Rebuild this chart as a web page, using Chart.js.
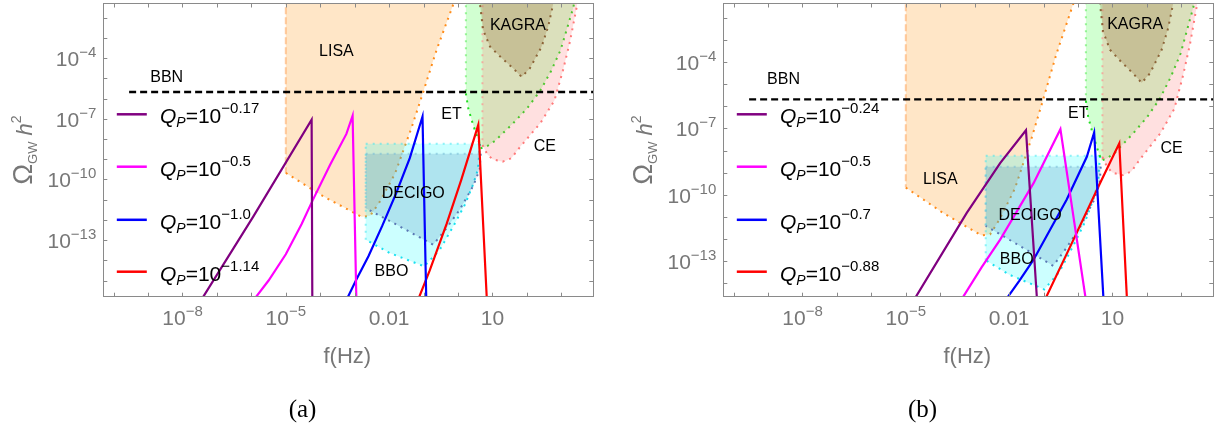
<!DOCTYPE html>
<html>
<head>
<meta charset="utf-8">
<script src="https://cdn.jsdelivr.net/npm/chart.js@4.4.1/dist/chart.umd.min.js"></script>
<style>
  body { margin: 0; background: #fff; }
  #wrap { position: relative; width: 1225px; height: 432px; overflow: hidden; }
  #wrap canvas { position: absolute; top: 0; }
</style>
</head>
<body>
<div id="wrap">
  <canvas id="panelA" width="605" height="432" style="left:0px"></canvas>
  <canvas id="panelB" width="605" height="432" style="left:620px"></canvas>
</div>
<script>
// Every number below is log10(f / Hz) or log10(Omega_GW h^2)

const xRange = [-10.3, 3.93];
const xDecades = [-10, -9, -8, -7, -6, -5, -4, -3, -2, -1, 0, 1, 2, 3];
const xLabelAt = [-8, -5, -2, 1];
const xLabelText = ['10^−8', '10^−5', '0.01', '10'];
const yLabelAt = [-4, -7, -10, -13];
const yLabelText = ['10^−4', '10^−7', '10^−10', '10^−13'];

const yRangeA = [-15.8, -1.3];
const yDecadesA = [-15, -14, -13, -12, -11, -10, -9, -8, -7, -6, -5, -4, -3, -2];
const yRangeB = [-14.63, -1.33];
const yDecadesB = [-14, -13, -12, -11, -10, -9, -8, -7, -6, -5, -4, -3, -2];

// detector sensitivity regions (closed outlines)
const lisaF = [-5.0, -5.0, -3.9, -2.8, -2.55, -2.27, -1.83, -1.35, -1.01, -0.62, -0.14, 0.16];
const lisaO = [0.0, -9.68, -10.85, -11.85, -11.8, -11.1, -9.72, -7.45, -5.68, -3.59, -1.36, 0.0];
const bboF = [-2.68, 0.64, 0.58, 0.45, 0.2, -0.14, -0.53, -0.98, -1.98, -2.68, -2.68];
const bboO = [-8.24, -8.24, -9.5, -10.2, -11.25, -12.33, -13.48, -14.3, -13.64, -12.98, -8.24];
const decigoF = [-2.68, 0.66, 0.63, 0.45, 0.05, -0.35, -0.72, -1.78, -2.68, -2.68];
const decigoO = [-8.73, -8.73, -9.5, -10.3, -11.5, -12.45, -13.23, -12.24, -11.42, -8.73];
const etF = [0.23, 0.23, 0.30, 0.44, 0.58, 0.68, 0.85, 1.07, 1.58, 2.0, 2.38, 2.7, 2.98, 3.35, 3.5];
const etO = [0.0, -5.75, -6.5, -7.3, -8.0, -8.45, -8.35, -8.1, -7.26, -6.5, -5.64, -4.65, -3.6, -1.5, 0.0];
const ceF = [0.71, 0.71, 0.85, 1.0, 1.3, 1.55, 1.8, 2.1, 2.4, 2.8, 3.05, 3.25, 3.45, 3.6];
const ceO = [0.0, -8.3, -8.75, -9.0, -9.12, -8.95, -8.4, -7.8, -7.2, -6.1, -4.6, -3.2, -1.45, 0.0];
const kagraF = [0.62, 0.64, 0.73, 0.93, 1.27, 1.6, 1.85, 2.09, 2.43, 2.62, 2.76, 2.9];
const kagraO = [0.0, -1.36, -2.6, -3.43, -4.0, -4.5, -4.93, -4.5, -3.43, -2.44, -1.36, 0.0];
const bbnF = [-9.55, 4.5];
const bbnO = [-5.68, -5.68];

// Q_P curves, panel (a)
const purpleAF = [-7.47, -5.95, -4.25, -4.23];
const purpleAO = [-16.0, -11.85, -7.05, -16.0];
const magentaAF = [-5.95, -5.5, -5.0, -4.54, -4.21, -3.72, -3.24, -3.06, -2.95];
const magentaAO = [-16.0, -15.0, -13.7, -12.2, -11.0, -9.3, -7.75, -6.85, -16.0];
const blueAF = [-3.25, -2.95, -2.6, -2.2, -1.8, -1.4, -1.03, -0.92];
const blueAO = [-16.0, -14.95, -13.8, -12.3, -10.7, -8.95, -6.89, -16.0];
const redAF = [-1.17, -0.82, -0.33, 0.10, 0.59, 0.84];
const redAO = [-16.0, -14.5, -12.2, -10.0, -7.30, -16.0];

// Q_P curves, panel (b)
const purpleBF = [-4.85, -3.23, -2.26, -1.51, -1.18];
const purpleBO = [-15.0, -10.83, -8.57, -7.08, -15.0];
const magentaBF = [-3.48, -2.8, -2.26, -1.29, -0.51, 0.25];
const magentaBO = [-15.0, -13.3, -12.04, -9.48, -7.03, -15.0];
const blueBF = [-2.2, -1.7, -1.29, -0.33, 0.26, 0.47, 0.75];
const blueBO = [-15.0, -13.9, -12.95, -10.23, -8.27, -7.18, -15.0];
const redBF = [-1.03, -0.13, 0.64, 1.20, 1.43];
const redBO = [-15.0, -12.04, -9.48, -7.67, -15.0];

const qColors = ['#800080', '#ff00ff', '#0000ff', '#ff0000'];
const qExpA = ['−0.17', '−0.5', '−1.0', '−1.14'];
const qExpB = ['−0.24', '−0.5', '−0.7', '−0.88'];

// text labels inside the plots
const detNames = ['LISA', 'KAGRA', 'ET', 'CE', 'DECIGO', 'BBO', 'BBN'];
const detAF = [-3.53, 1.74, -0.19, 2.52, -1.30, -1.93, -8.46];
const detAO = [-3.67, -2.40, -6.80, -8.37, -10.68, -14.55, -4.96];
const detBF = [-4.00, 1.66, 0.01, 2.72, -1.39, -1.78, -8.55];
const detBO = [-9.33, -2.27, -6.31, -7.89, -10.95, -12.95, -4.80];

const FONT = '"Liberation Sans", Arial, sans-serif';
const FRAME = '#8a8a8a';
const TICKTXT = '#777777';

const toPts = (fs, os) => fs.map((f, i) => ({ x: Math.pow(10, f), y: Math.pow(10, os[i]) }));
const decadeTicks = list => list.map(v => ({ value: Math.pow(10, v) }));

const regions = [
    { f: kagraF, o: kagraO, fill: 'rgba(140,100,40,0.25)', line: '#8c6438', edge: '#8c6438' },
    { f: ceF, o: ceO, fill: 'rgba(255,100,100,0.2)', line: '#ff7a7a', edge: 'rgba(255,140,140,0.65)' },
    { f: etF, o: etO, fill: 'rgba(0,255,0,0.18)', line: '#22dd22', edge: 'rgba(90,235,90,0.6)' },
    { f: decigoF, o: decigoO, fill: 'rgba(70,130,180,0.22)', line: '#5a78b4', edge: 'rgba(120,190,215,0.6)' },
    { f: bboF, o: bboO, fill: 'rgba(0,255,255,0.2)', line: '#19e0f0', edge: 'rgba(60,230,240,0.55)' },
    { f: lisaF, o: lisaO, fill: 'rgba(255,140,0,0.22)', line: '#ff8c1a', edge: 'rgba(255,170,100,0.6)', edgeDash: [7, 3] }
];

function isStraight(c) {
    return c.p0.parsed.x === c.p1.parsed.x || c.p0.parsed.y === c.p1.parsed.y;
}

// "10^−8" -> base with raised exponent
function drawPow(ctx, text, x, y, align, size, supSize, raise, color) {
    const parts = text.split('^');
    ctx.font = size + 'px ' + FONT;
    const wBase = ctx.measureText(parts[0]).width;
    let wSup = 0;
    if (parts[1]) { ctx.font = supSize + 'px ' + FONT; wSup = ctx.measureText(parts[1]).width; }
    const w = wBase + wSup;
    let x0 = x;
    if (align === 'right') x0 = x - w;
    else if (align === 'center') x0 = x - w / 2;
    ctx.fillStyle = color;
    ctx.textAlign = 'left';
    ctx.textBaseline = 'alphabetic';
    ctx.font = size + 'px ' + FONT;
    ctx.fillText(parts[0], x0, y);
    if (parts[1]) {
        ctx.font = supSize + 'px ' + FONT;
        ctx.fillText(parts[1], x0 + wBase, y - raise);
    }
}

function decor(panel) {
    return {
        id: 'decor',
        afterDatasetsDraw(chart) {
            const { ctx, scales: { x, y } } = chart;
            ctx.save();
            ctx.fillStyle = '#000';
            ctx.font = '16px ' + FONT;
            ctx.textAlign = 'center';
            ctx.textBaseline = 'middle';
            detNames.forEach((n, i) => {
                ctx.fillText(n, x.getPixelForValue(Math.pow(10, panel.detF[i])), y.getPixelForValue(Math.pow(10, panel.detO[i])));
            });
            ctx.restore();
        },
        afterDraw(chart) {
            const { ctx, chartArea: a, scales: { x, y } } = chart;
            ctx.save();
            // inward ticks on all four sides
            ctx.strokeStyle = FRAME;
            ctx.lineWidth = 1;
            ctx.beginPath();
            x.ticks.forEach(t => {
                const px = Math.round(x.getPixelForValue(t.value)) + 0.5;
                ctx.moveTo(px, a.bottom); ctx.lineTo(px, a.bottom - 4);
                ctx.moveTo(px, a.top); ctx.lineTo(px, a.top + 4);
            });
            y.ticks.forEach(t => {
                const py = Math.round(y.getPixelForValue(t.value)) + 0.5;
                ctx.moveTo(a.left, py); ctx.lineTo(a.left + 4, py);
                ctx.moveTo(a.right, py); ctx.lineTo(a.right - 4, py);
            });
            ctx.stroke();

            // tick labels
            xLabelAt.forEach((v, i) => {
                drawPow(ctx, xLabelText[i], x.getPixelForValue(Math.pow(10, v)), a.bottom + 28.5, 'center', 21, 15, 9, TICKTXT);
            });
            yLabelAt.forEach((v, i) => {
                drawPow(ctx, yLabelText[i], a.left - 7, y.getPixelForValue(Math.pow(10, v)) + 8, 'right', 21, 15, 9, TICKTXT);
            });

            // axis titles
            ctx.fillStyle = TICKTXT;
            ctx.font = '22px ' + FONT;
            ctx.textAlign = 'center';
            ctx.textBaseline = 'middle';
            ctx.fillText('f(Hz)', (a.left + a.right) / 2 - 1, 357);

            ctx.save();
            ctx.translate(31.5, (a.top + a.bottom) / 2);
            ctx.rotate(-Math.PI / 2);
            const parts = [
                ['Ω', '28px ' + FONT, 0],
                ['GW', '13px ' + FONT, 5],
                [' h', 'italic 22px ' + FONT, 0],
                ['2', '14px ' + FONT, -11]
            ];
            let total = 0;
            parts.forEach(p => { ctx.font = p[1]; total += ctx.measureText(p[0]).width; });
            let tx = -total / 2;
            ctx.textAlign = 'left';
            ctx.textBaseline = 'alphabetic';
            parts.forEach(p => { ctx.font = p[1]; ctx.fillText(p[0], tx, p[2]); tx += ctx.measureText(p[0]).width; });
            ctx.restore();

            // legend
            const legendY = [114.3, 166.7, 219.8, 271.7];
            panel.qExp.forEach((e, i) => {
                const ly = legendY[i];
                ctx.strokeStyle = qColors[i];
                ctx.lineWidth = 2.5;
                ctx.beginPath();
                ctx.moveTo(a.left + 13.5, ly);
                ctx.lineTo(a.left + 43.5, ly);
                ctx.stroke();
                let lx = a.left + 56.7;
                const by = ly + 9;
                ctx.fillStyle = '#000';
                ctx.textAlign = 'left';
                ctx.textBaseline = 'alphabetic';
                ctx.font = 'italic 21px ' + FONT; ctx.fillText('Q', lx, by); lx += ctx.measureText('Q').width;
                ctx.font = 'italic 14px ' + FONT; ctx.fillText('P', lx, by + 4); lx += ctx.measureText('P').width;
                ctx.font = '21px ' + FONT; ctx.fillText('=10', lx, by); lx += ctx.measureText('=10').width;
                ctx.font = '15px ' + FONT; ctx.fillText(e, lx, by - 10);
            });

            // panel letter
            ctx.fillStyle = '#000';
            ctx.font = '25px "Liberation Serif", "DejaVu Serif", serif';
            ctx.textAlign = 'center';
            ctx.textBaseline = 'middle';
            ctx.fillText(panel.letter, 302.5, 410);
            ctx.restore();
        }
    };
}

function logAxis(range, position, decades) {
    const ax = {
        type: 'logarithmic',
        position,
        min: Math.pow(10, range[0]),
        max: Math.pow(10, range[1]),
        ticks: { display: false },
        grid: { display: false, drawTicks: false, tickLength: 0 },
        border: { display: true, color: FRAME, width: 1, z: 1 }
    };
    if (decades) ax.afterBuildTicks = s => { s.ticks = decadeTicks(decades); };
    return ax;
}

function buildPanel(canvasId, panel) {
    const datasets = [];
    panel.curves.forEach((c, i) => {
        datasets.push({
            data: toPts(c[0], c[1]), borderColor: qColors[i], borderWidth: 2.2,
            pointRadius: 0, fill: false, tension: 0, clip: 0, order: 0
        });
    });
    datasets.push({
        data: toPts(bbnF, bbnO), borderColor: '#000', borderWidth: 2.4, borderDash: [7, 4],
        pointRadius: 0, fill: false, clip: 0, order: 1
    });
    regions.forEach((r, i) => {
        const ord = 2 + i * 2;
        // outline (dotted), straight frame-like edges lighter
        datasets.push({
            data: toPts(r.f, r.o), borderColor: r.line, borderWidth: 2, borderDash: [2, 5],
            borderCapStyle: 'butt', pointRadius: 0, fill: false, tension: 0, clip: 0, order: ord,
            segment: {
                borderColor: c => isStraight(c) ? r.edge : undefined,
                borderDash: c => (isStraight(c) && r.edgeDash) ? r.edgeDash : undefined
            }
        });
        // filled area
        datasets.push({
            data: toPts(r.f, r.o), backgroundColor: r.fill, borderColor: 'rgba(0,0,0,0)', borderWidth: 0,
            pointRadius: 0, fill: 'shape', tension: 0, clip: 0, order: ord + 1
        });
    });

    return new Chart(document.getElementById(canvasId), {
        type: 'line',
        data: { datasets },
        options: {
            responsive: false,
            devicePixelRatio: 1,
            animation: false,
            events: [],
            layout: { padding: { left: 103.3, right: 11.7, top: 3.5, bottom: 135.3 } },
            plugins: { legend: { display: false }, tooltip: { enabled: false } },
            scales: {
                x: logAxis(xRange, 'bottom', xDecades),
                y: logAxis(panel.yRange, 'left', panel.yDecades),
                x2: logAxis(xRange, 'top'),
                y2: logAxis(panel.yRange, 'right')
            }
        },
        plugins: [decor(panel)]
    });
}

buildPanel('panelA', {
    yRange: yRangeA, yDecades: yDecadesA,
    curves: [[purpleAF, purpleAO], [magentaAF, magentaAO], [blueAF, blueAO], [redAF, redAO]],
    qExp: qExpA, detF: detAF, detO: detAO, letter: '(a)'
});
buildPanel('panelB', {
    yRange: yRangeB, yDecades: yDecadesB,
    curves: [[purpleBF, purpleBO], [magentaBF, magentaBO], [blueBF, blueBO], [redBF, redBO]],
    qExp: qExpB, detF: detBF, detO: detBO, letter: '(b)'
});
</script>
</body>
</html>
